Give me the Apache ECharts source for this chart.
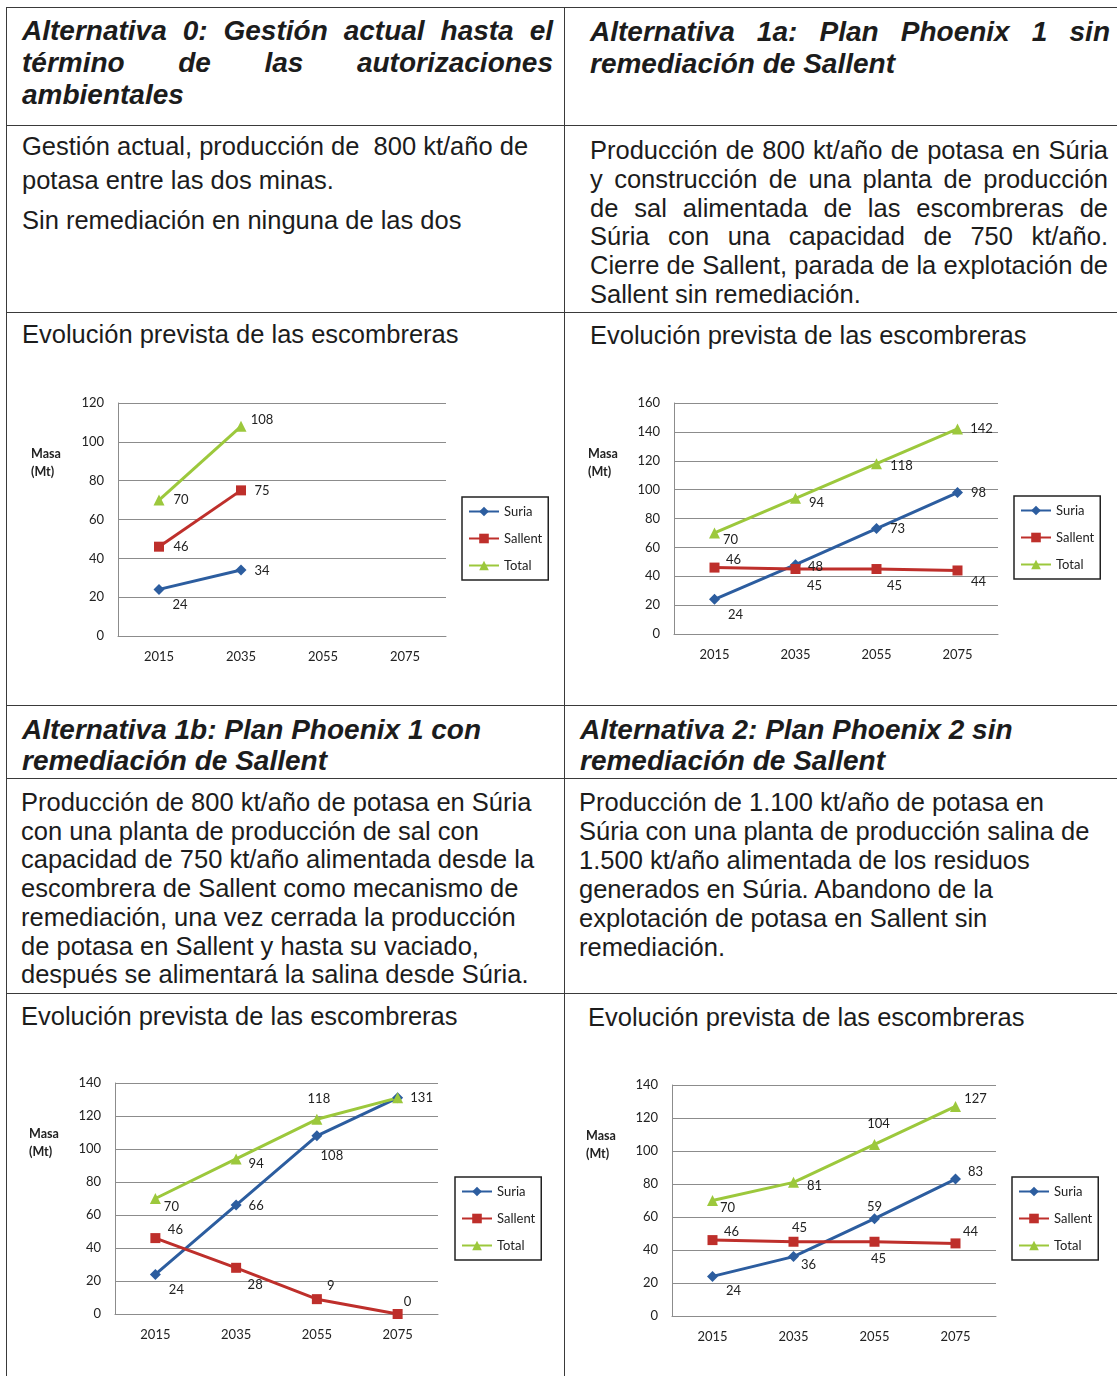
<!DOCTYPE html>
<html>
<head>
<meta charset="utf-8">
<script src="https://cdn.jsdelivr.net/npm/echarts/dist/echarts.min.js"></script>
<style>
  body { margin: 0; background: #fff; }
  #page { position: relative; width: 1117px; height: 1376px; overflow: hidden; background: #fff; }
  .hl { position: absolute; height: 0; border-top: 1.5px solid #3a3a3a; }
  .vl { position: absolute; width: 0; border-left: 1.5px solid #3a3a3a; }
  .t { position: absolute; font-family: 'Liberation Sans', Arial, sans-serif; color: #1c1c1c; white-space: pre; }
  .blk { white-space: normal; }
  .nw { white-space: nowrap; }
  .h { font-size: 28px; font-weight: bold; font-style: italic; line-height: 32px; }
  .b { font-size: 25.5px; line-height: 29px; }
  .j { text-align: justify; text-align-last: justify; white-space: normal; }
  #c { position: absolute; left: 0; top: 0; width: 1117px; height: 1376px; }
</style>
</head>
<body>
<div id="page">
  <!-- rejilla de la tabla -->
  <div class="hl" style="left:6px; width:1111px; top:7px;"></div>
  <div class="hl" style="left:6px; width:1111px; top:125px;"></div>
  <div class="hl" style="left:6px; width:1111px; top:312px;"></div>
  <div class="hl" style="left:6px; width:1111px; top:705px;"></div>
  <div class="hl" style="left:6px; width:1111px; top:778px;"></div>
  <div class="hl" style="left:6px; width:1111px; top:993px;"></div>
  <div class="vl" style="left:6px; top:7px; height:1369px;"></div>
  <div class="vl" style="left:564px; top:7px; height:1369px;"></div>

  <!-- cabeceras superiores -->
  <div class="t h blk" style="left:22px; top:15px; width:531px;"><div class="j">Alternativa 0: Gestión actual hasta el</div><div class="j">término de las autorizaciones</div><div class="nw">ambientales</div></div>
  <div class="t h blk" style="left:590px; top:16px; width:520px;"><div class="j">Alternativa 1a: Plan Phoenix 1 sin</div><div class="nw">remediación de Sallent</div></div>

  <!-- textos superiores -->
  <div class="t b" style="left:22px; top:132px;">Gestión actual, producción de  800 kt/año de</div>
  <div class="t b" style="left:22px; top:166px;">potasa entre las dos minas.</div>
  <div class="t b" style="left:22px; top:206px;">Sin remediación en ninguna de las dos</div>

  <div class="t b blk" style="left:590px; top:136px; width:518px; line-height:28.8px;"><div class="j">Producción de 800 kt/año de potasa en Súria</div><div class="j">y construcción de una planta de producción</div><div class="j">de sal alimentada de las escombreras de</div><div class="j">Súria con una capacidad de 750 kt/año.</div><div class="j">Cierre de Sallent, parada de la explotación de</div><div class="nw">Sallent sin remediación.</div></div>

  <div class="t b" style="left:22px; top:320px;">Evolución prevista de las escombreras</div>
  <div class="t b" style="left:590px; top:321px;">Evolución prevista de las escombreras</div>

  <!-- cabeceras inferiores -->
  <div class="t h" style="left:22px; top:714px; line-height:31px;">Alternativa 1b: Plan Phoenix 1 con
remediación de Sallent</div>
  <div class="t h" style="left:580px; top:714px; line-height:31px;">Alternativa 2: Plan Phoenix 2 sin
remediación de Sallent</div>

  <!-- textos inferiores -->
  <div class="t b" style="left:21px; top:788px; line-height:28.7px;">Producción de 800 kt/año de potasa en Súria
con una planta de producción de sal con
capacidad de 750 kt/año alimentada desde la
escombrera de Sallent como mecanismo de
remediación, una vez cerrada la producción
de potasa en Sallent y hasta su vaciado,
después se alimentará la salina desde Súria.</div>
  <div class="t b" style="left:579px; top:788px; line-height:29px;">Producción de 1.100 kt/año de potasa en
Súria con una planta de producción salina de
1.500 kt/año alimentada de los residuos
generados en Súria. Abandono de la
explotación de potasa en Sallent sin
remediación.</div>

  <div class="t b" style="left:21px; top:1002px;">Evolución prevista de las escombreras</div>
  <div class="t b" style="left:588px; top:1003px;">Evolución prevista de las escombreras</div>

  <div id="c"></div>
</div>

<script>
// datos (Mt)
var years = ['2015', '2035', '2055', '2075'];
var seriesNames = ['Suria', 'Sallent', 'Total'];
var axisMax = [120, 160, 140, 140];

var alt0Suria = [24, 34];
var alt0Sallent = [46, 75];
var alt0Total = [70, 108];

var alt1aSuria = [24, 48, 73, 98];
var alt1aSallent = [46, 45, 45, 44];
var alt1aTotal = [70, 94, 118, 142];

var alt1bSuria = [24, 66, 108, 131];
var alt1bSallent = [46, 28, 9, 0];
var alt1bTotal = [70, 94, 118, 131];

var alt2Suria = [24, 36, 59, 83];
var alt2Sallent = [46, 45, 45, 44];
var alt2Total = [70, 81, 104, 127];

(function () {
    var myChart = echarts.init(document.getElementById('c'));
    var font = 'Lato';
    var colors = ['#2c5d9f', '#be2f2b', '#9cc83c'];
    var symbols = ['diamond', 'rect', 'triangle'];
    var symbolSizes = [11, 10, 11];

    // posición de cada panel y de las etiquetas (estilo, no datos)
    var panels = [
        {
            values: [alt0Suria, alt0Sallent, alt0Total],
            grid: { left: 118, top: 403, width: 328, height: 233 },
            legend: { left: 462, top: 497 },
            masa: [47, 453],
            offsets: [
                [[21, 15], [21, 1]],
                [[22, 0], [21, 0]],
                [[22, 0], [21, -6]]
            ]
        },
        {
            values: [alt1aSuria, alt1aSallent, alt1aTotal],
            grid: { left: 674, top: 403, width: 324, height: 231 },
            legend: { left: 1014, top: 496 },
            masa: [604, 453],
            offsets: [
                [[21, 15], [20, 2], [21, 0], [21, 0]],
                [[19, -8], [19, 17], [18, 17], [21, 11]],
                [[16, 7], [21, 5], [25, 2], [24, 0]]
            ]
        },
        {
            values: [alt1bSuria, alt1bSallent, alt1bTotal],
            grid: { left: 115, top: 1083, width: 323, height: 231 },
            legend: { left: 455, top: 1177 },
            masa: [45, 1133],
            offsets: [
                [[21, 15], [20, 1], [15, 20], null],
                [[20, -8], [19, 17], [14, -13], [10, -12]],
                [[16, 8], [20, 5], [2, -20], [24, 0]]
            ]
        },
        {
            values: [alt2Suria, alt2Sallent, alt2Total],
            grid: { left: 672, top: 1085, width: 324, height: 231 },
            legend: { left: 1012, top: 1177 },
            masa: [602, 1135],
            offsets: [
                [[21, 14], [15, 8], [0, -12], [20, -7]],
                [[19, -8], [6, -14], [4, 17], [15, -12]],
                [[15, 7], [21, 3], [4, -21], [20, -8]]
            ]
        }
    ];

    var grids = [], xAxes = [], yAxes = [], legends = [], series = [], graphics = [];

    panels.forEach(function (p, k) {
        grids.push(p.grid);
        xAxes.push({
            type: 'category',
            gridIndex: k,
            data: years,
            axisTick: { show: false },
            axisLine: { lineStyle: { color: '#8c8c8c', width: 1 } },
            axisLabel: { color: '#222', fontSize: 13, fontFamily: font, margin: 14 }
        });
        yAxes.push({
            type: 'value',
            gridIndex: k,
            min: 0,
            max: axisMax[k],
            interval: 20,
            axisTick: { show: false },
            axisLine: { show: true, lineStyle: { color: '#8c8c8c', width: 1 } },
            axisLabel: { color: '#222', fontSize: 13, fontFamily: font, margin: 14 },
            splitLine: { lineStyle: { color: '#8c8c8c', width: 1 } }
        });
        legends.push({
            left: p.legend.left,
            top: p.legend.top,
            orient: 'vertical',
            data: seriesNames,
            backgroundColor: '#fff',
            borderColor: '#222',
            borderWidth: 1.5,
            padding: [8, 6, 8, 6],
            itemGap: 14,
            itemWidth: 30,
            itemHeight: 12,
            textStyle: { color: '#222', fontSize: 13, fontFamily: font }
        });
        seriesNames.forEach(function (name, s) {
            var offs = p.offsets[s];
            series.push({
                name: name,
                type: 'line',
                xAxisIndex: k,
                yAxisIndex: k,
                symbol: symbols[s],
                symbolSize: symbolSizes[s],
                lineStyle: { width: 3, color: colors[s] },
                itemStyle: { color: colors[s] },
                label: {
                    show: true,
                    position: 'inside',
                    color: '#222',
                    fontSize: 13,
                    fontFamily: font
                },
                data: p.values[s].map(function (v, i) {
                    var o = offs[i];
                    return o ? { value: v, label: { offset: o } } : { value: v, label: { show: false } };
                })
            });
        });
        graphics.push({
            type: 'text',
            left: p.masa[0] - 16,
            top: p.masa[1] - 8,
            style: {
                text: 'Masa\n(Mt)',
                font: 'bold 12.5px Lato',
                fill: '#222',
                lineHeight: 18
            }
        });
    });

    var option = {
        animation: false,
        grid: grids,
        xAxis: xAxes,
        yAxis: yAxes,
        legend: legends,
        series: series,
        graphic: graphics
    };
    myChart.setOption(option);
    window.addEventListener('resize', function () {
        myChart.resize();
    });
})();
</script>
</body>
</html>
